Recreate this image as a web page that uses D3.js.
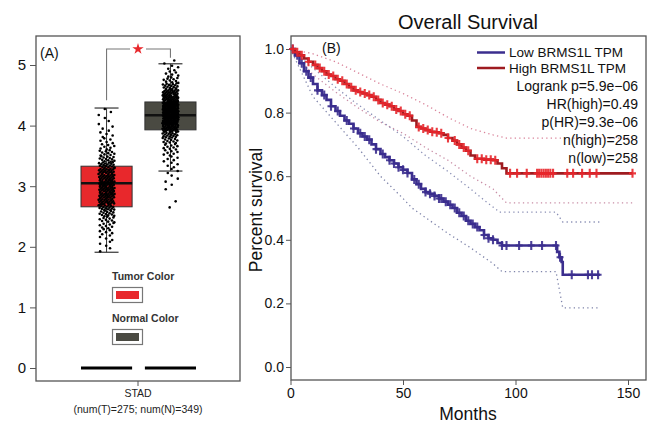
<!DOCTYPE html>
<html>
<head>
<meta charset="utf-8">
<script src="https://cdn.jsdelivr.net/npm/d3@7"></script>
<style>
  html, body { margin: 0; padding: 0; background: #fff; }
  svg { display: block; font-family: "Liberation Sans", Arial, sans-serif; }
</style>
</head>
<body>
<svg id="chart" width="652" height="424"></svg>
<script>
// ---- panel A: expression boxes (log2(TPM+1)) ----
const groups = ['Tumor', 'Normal'];
const boxColors = ['#e8282c', '#4a4a42'];
// [whisker low, Q1, median, Q3, whisker high]
const tumorBox = [1.91, 2.66, 3.05, 3.33, 4.29];
const normalBox = [3.25, 3.93, 4.17, 4.39, 5.02];
// jittered points read as counts per 0.1 bin
const tumorBins = [1.9, 2.0, 2.1, 2.2, 2.3, 2.4, 2.5, 2.6, 2.7, 2.8, 2.9, 3.0, 3.1, 3.2, 3.3, 3.4, 3.5, 3.6, 3.7, 3.8, 3.9, 4.0, 4.1, 4.2];
const tumorCounts = [2, 3, 4, 6, 8, 10, 14, 18, 22, 24, 26, 26, 24, 22, 18, 13, 10, 7, 5, 4, 3, 2, 2, 2];
const normalBins = [2.6, 2.7, 2.9, 3.0, 3.1, 3.2, 3.3, 3.4, 3.5, 3.6, 3.7, 3.8, 3.9, 4.0, 4.1, 4.2, 4.3, 4.4, 4.5, 4.6, 4.7, 4.8, 4.9, 5.0];
const normalCounts = [1, 1, 1, 2, 2, 3, 4, 5, 7, 9, 12, 18, 28, 36, 42, 44, 40, 32, 24, 16, 10, 6, 4, 2];
const yTicksA = [0, 1, 2, 3, 4, 5];

// ---- panel B: Kaplan-Meier ----
const lowTimes = [0, 2, 4, 6, 8, 10, 12, 14, 16, 18, 20, 22, 24, 26, 28, 30, 32, 34, 36, 38, 40, 42, 44, 46, 48, 50, 52, 54, 56, 58, 60, 62, 64, 66, 68, 70, 72, 74, 76, 78, 80, 82, 84, 86, 88, 90, 92, 94, 118.5, 119.5, 120.5, 121, 137.5];
const lowSurv = [1.0, 0.98, 0.955, 0.93, 0.91, 0.89, 0.87, 0.855, 0.84, 0.82, 0.805, 0.79, 0.775, 0.765, 0.75, 0.735, 0.725, 0.715, 0.70, 0.685, 0.67, 0.66, 0.65, 0.64, 0.628, 0.62, 0.61, 0.59, 0.575, 0.56, 0.55, 0.545, 0.538, 0.53, 0.52, 0.51, 0.50, 0.485, 0.475, 0.46, 0.45, 0.44, 0.43, 0.415, 0.405, 0.40, 0.39, 0.382, 0.362, 0.345, 0.33, 0.29, 0.29];
const highTimes = [0, 2, 4, 6, 8, 10, 12, 14, 16, 18, 20, 22, 24, 26, 28, 30, 32, 34, 36, 38, 40, 42, 44, 46, 48, 50, 52, 54, 56, 58, 60, 62, 64, 66, 68, 70, 72, 74, 76, 78, 80, 82, 86, 90, 92, 94, 96, 152];
const highSurv = [1.0, 0.99, 0.98, 0.97, 0.96, 0.95, 0.94, 0.93, 0.92, 0.915, 0.905, 0.90, 0.89, 0.88, 0.87, 0.865, 0.86, 0.855, 0.85, 0.84, 0.83, 0.825, 0.82, 0.81, 0.805, 0.795, 0.79, 0.775, 0.755, 0.75, 0.745, 0.74, 0.738, 0.735, 0.73, 0.72, 0.712, 0.70, 0.69, 0.68, 0.665, 0.655, 0.652, 0.65, 0.64, 0.625, 0.609, 0.609];
const lowCensor = [1, 3, 5, 7, 9, 12, 15, 18, 21, 25, 28, 31, 33, 35, 38, 41, 44, 46, 48, 50, 52, 55, 57, 60, 62, 64, 66, 67, 69, 71, 73, 75, 77, 79, 81, 83, 86, 88, 90, 94, 96, 101.6, 107, 111.8, 118, 119.8, 125, 132.2, 134, 136.7];
const highCensor = [1, 3, 5, 8, 11, 13, 15, 17, 19, 21, 23, 25, 27, 29, 31, 33, 35, 37, 39, 41, 43, 45, 47, 49, 51, 53, 57, 59, 61, 63, 65, 67, 70, 73, 75, 77, 79, 83, 85, 87, 89, 91, 97.6, 100.7, 105, 109.6, 110.5, 111.5, 112.5, 113.5, 114.5, 115.5, 116.7, 123, 125.6, 129.6, 133, 136, 152];
// confidence bands (dotted)
const highUpT = [0, 10, 20, 30, 40, 50, 60, 70, 80, 90, 96, 152];
const highUpS = [1, 0.985, 0.96, 0.925, 0.89, 0.86, 0.825, 0.785, 0.75, 0.73, 0.72, 0.72];
const highLoT = [0, 10, 20, 30, 40, 50, 60, 70, 80, 90, 96, 152];
const highLoS = [1, 0.92, 0.865, 0.815, 0.77, 0.735, 0.69, 0.65, 0.6, 0.56, 0.516, 0.516];
const lowUpT = [0, 10, 20, 30, 40, 50, 60, 70, 80, 86, 93, 118, 121, 137.5];
const lowUpS = [1, 0.94, 0.88, 0.825, 0.775, 0.725, 0.665, 0.615, 0.56, 0.525, 0.487, 0.487, 0.456, 0.456];
const lowLoT = [0, 10, 20, 30, 40, 50, 54, 60, 70, 80, 90, 94, 118, 121, 137.5];
const lowLoS = [1, 0.85, 0.77, 0.69, 0.6, 0.53, 0.50, 0.47, 0.42, 0.375, 0.325, 0.30, 0.30, 0.186, 0.186];
const legendLabels = ['Low BRMS1L TPM', 'High BRMS1L TPM'];
const statLabels = ['Logrank p=5.9e\u221206', 'HR(high)=0.49', 'p(HR)=9.3e\u221206', 'n(high)=258', 'n(low)=258'];
const xTicksB = [0, 50, 100, 150];
const yTicksB = [0, 0.2, 0.4, 0.6, 0.8, 1.0];

const svg = d3.select('#chart');
const LOW = '#3b2e8e', HIGH = '#e8262b', HIGHLINE = '#9e1b20';
const FONT = '"Liberation Sans", Arial, sans-serif';

// ================= panel A =================
const A = { left: 36, top: 36, right: 240, bottom: 381 };
const yA = d3.scaleLinear().domain([0, 5]).range([368, 65]);
const xA = d3.scaleBand().domain(groups).range([81, 196]).paddingInner(0.2);
const gA = svg.append('g');

gA.append('rect').attr('x', A.left).attr('y', A.top)
  .attr('width', A.right - A.left).attr('height', A.bottom - A.top)
  .attr('fill', 'none').attr('stroke', '#555').attr('stroke-width', 1.3);

const axA = gA.append('g').attr('transform', `translate(${A.left},0)`)
  .call(d3.axisLeft(yA).tickValues(yTicksA).tickFormat(d3.format('d')).tickSize(6).tickPadding(4));
axA.select('.domain').remove();
axA.selectAll('line').attr('stroke', '#555');
axA.selectAll('text').attr('font-size', 15).attr('fill', '#111').attr('font-family', FONT);

gA.append('line').attr('x1', 138).attr('x2', 138).attr('y1', A.bottom).attr('y2', A.bottom + 5).attr('stroke', '#555');
gA.append('text').attr('x', 138).attr('y', 397).attr('text-anchor', 'middle').attr('font-size', 10.5).attr('fill', '#222').text('STAD');
gA.append('text').attr('x', 138).attr('y', 413).attr('text-anchor', 'middle').attr('font-size', 10.5).attr('fill', '#222').text('(num(T)=275; num(N)=349)');
gA.append('text').attr('x', 40).attr('y', 58).attr('font-size', 14).attr('fill', '#111').text('(A)');

// zero baselines
groups.forEach(gname => {
  gA.append('line').attr('x1', xA(gname)).attr('x2', xA(gname) + xA.bandwidth())
    .attr('y1', yA(0)).attr('y2', yA(0)).attr('stroke', '#000').attr('stroke-width', 3);
});

function drawBox(gname, stats, color) {
  const x0 = xA(gname), w = xA.bandwidth(), cx = x0 + w / 2;
  const capW = 24;
  gA.append('line').attr('x1', cx).attr('x2', cx).attr('y1', yA(stats[0])).attr('y2', yA(stats[4])).attr('stroke', '#333');
  [stats[0], stats[4]].forEach(v => {
    gA.append('line').attr('x1', cx - capW / 2).attr('x2', cx + capW / 2)
      .attr('y1', yA(v)).attr('y2', yA(v)).attr('stroke', '#333').attr('stroke-width', 1.2);
  });
  gA.append('rect').attr('x', x0).attr('y', yA(stats[3])).attr('width', w)
    .attr('height', yA(stats[1]) - yA(stats[3])).attr('fill', color).attr('stroke', '#333').attr('stroke-width', 1);
  gA.append('line').attr('x1', x0).attr('x2', x0 + w).attr('y1', yA(stats[2])).attr('y2', yA(stats[2]))
    .attr('stroke', '#111').attr('stroke-width', 2.5);
}
drawBox('Tumor', tumorBox, boxColors[0]);
drawBox('Normal', normalBox, boxColors[1]);

function drawPoints(gname, bins, counts, seed) {
  const cx = xA(gname) + xA.bandwidth() / 2;
  const pts = [];
  bins.forEach((b, i) => {
    const c = counts[i];
    for (let k = 0; k < c; k++) {
      const v = b + (k + 0.5) / c * 0.1;
      const j = ((k * 0.618 + i * 0.377 + seed) % 1) - 0.5;
      pts.push([cx + j * 16, v]);
    }
  });
  gA.append('g').selectAll('circle').data(pts).enter().append('circle')
    .attr('cx', d => d[0]).attr('cy', d => yA(d[1])).attr('r', 1.3).attr('fill', '#000');
}
drawPoints('Tumor', tumorBins, tumorCounts, 0.1);
drawPoints('Normal', normalBins, normalCounts, 0.45);

// significance bracket
const bx1 = xA('Tumor') + xA.bandwidth() / 2, bx2 = xA('Normal') + xA.bandwidth() / 2;
gA.append('path').attr('d', `M${bx1},${yA(4.42)} V49 H130 M146,49 H${bx2} V${yA(5.12)}`)
  .attr('fill', 'none').attr('stroke', '#777').attr('stroke-width', 1.1);
gA.append('path').attr('d', d3.symbol(d3.symbolStar, 40)()).attr('transform', 'translate(138,49)').attr('fill', '#e8282c');

// colour legend
[['Tumor Color', 280, boxColors[0]], ['Normal Color', 322, boxColors[1]]].forEach(([lab, y, col]) => {
  gA.append('text').attr('x', 112).attr('y', y).attr('font-size', 10.5).attr('font-weight', 'bold').attr('fill', '#333').text(lab);
  gA.append('rect').attr('x', 112.5).attr('y', y + 7.5).attr('width', 30).attr('height', 15)
    .attr('fill', '#fff').attr('stroke', '#777').attr('stroke-width', 1.2);
  gA.append('rect').attr('x', 116).attr('y', y + 11).attr('width', 23).attr('height', 8).attr('fill', col);
});

// ================= panel B =================
const B = { left: 291, top: 36, right: 646, bottom: 380 };
const xB = d3.scaleLinear().domain([0, 150]).range([290.5, 628]);
const yB = d3.scaleLinear().domain([0, 1]).range([367, 49]);
const gB = svg.append('g');

gB.append('rect').attr('x', B.left).attr('y', B.top)
  .attr('width', B.right - B.left).attr('height', B.bottom - B.top)
  .attr('fill', 'none').attr('stroke', '#555').attr('stroke-width', 1.3);

const axX = gB.append('g').attr('transform', `translate(0,${B.bottom})`)
  .call(d3.axisBottom(xB).tickValues(xTicksB).tickSize(5).tickPadding(3));
const axY = gB.append('g').attr('transform', `translate(${B.left},0)`)
  .call(d3.axisLeft(yB).tickValues(yTicksB).tickFormat(d3.format('.1f')).tickSize(5).tickPadding(2));
[axX, axY].forEach(ax => {
  ax.select('.domain').remove();
  ax.selectAll('line').attr('stroke', '#555');
  ax.selectAll('text').attr('font-size', 14).attr('fill', '#111').attr('font-family', FONT);
});

gB.append('text').attr('x', 468).attr('y', 29).attr('text-anchor', 'middle').attr('font-size', 20).attr('fill', '#111').text('Overall Survival');
gB.append('text').attr('x', 468).attr('y', 420).attr('text-anchor', 'middle').attr('font-size', 17.5).attr('fill', '#111').text('Months');
gB.append('text').attr('transform', 'translate(262,210) rotate(-90)').attr('text-anchor', 'middle')
  .attr('font-size', 17.5).attr('fill', '#111').text('Percent survival');
gB.append('text').attr('x', 322).attr('y', 53).attr('font-size', 14).attr('fill', '#111').text('(B)');

const zip = (t, s) => t.map((v, i) => [v, s[i]]);
const lineLin = d3.line().x(d => xB(d[0])).y(d => yB(d[1]));
const lineStep = d3.line().x(d => xB(d[0])).y(d => yB(d[1])).curve(d3.curveStepAfter);

// dotted confidence bands
[[highUpT, highUpS, '#d9839a'], [highLoT, highLoS, '#c98ea6'], [lowUpT, lowUpS, '#8a8fb5'], [lowLoT, lowLoS, '#7f84aa']]
  .forEach(([t, s, c]) => {
    gB.append('path').attr('d', lineLin(zip(t, s))).attr('fill', 'none')
      .attr('stroke', c).attr('stroke-width', 1.3).attr('stroke-dasharray', '1.3,3.2');
  });

function survAt(times, surv, t) {
  let s = surv[0];
  for (let i = 0; i < times.length; i++) if (times[i] <= t) s = surv[i];
  return s;
}
function drawKM(times, surv, censor, lineCol, markCol) {
  gB.append('path').attr('d', lineStep(zip(times, surv))).attr('fill', 'none')
    .attr('stroke', lineCol).attr('stroke-width', 2.6);
  gB.append('g').selectAll('path').data(censor).enter().append('path')
    .attr('d', t => {
      const x = xB(t), y = yB(survAt(times, surv, t));
      return `M${x},${y - 4.5}V${y + 4.5}M${x - 3.5},${y}H${x + 3.5}`;
    })
    .attr('stroke', markCol).attr('stroke-width', 2.1).attr('opacity', 0.9).attr('fill', 'none');
}
drawKM(lowTimes, lowSurv, lowCensor, LOW, LOW);
drawKM(highTimes, highSurv, highCensor, HIGHLINE, HIGH);

// legend
[[LOW, 52.5], [HIGHLINE, 68]].forEach(([c, y], i) => {
  gB.append('line').attr('x1', 477).attr('x2', 505).attr('y1', y).attr('y2', y).attr('stroke', c).attr('stroke-width', 2.5);
  gB.append('text').attr('x', 509).attr('y', y + 4.5).attr('font-size', 13.5).attr('fill', '#111').text(legendLabels[i]);
});
statLabels.forEach((lab, i) => {
  gB.append('text').attr('x', 638).attr('y', 91 + i * 18.1).attr('text-anchor', 'end')
    .attr('font-size', 14).attr('fill', '#111').text(lab);
});
</script>
</body>
</html>
